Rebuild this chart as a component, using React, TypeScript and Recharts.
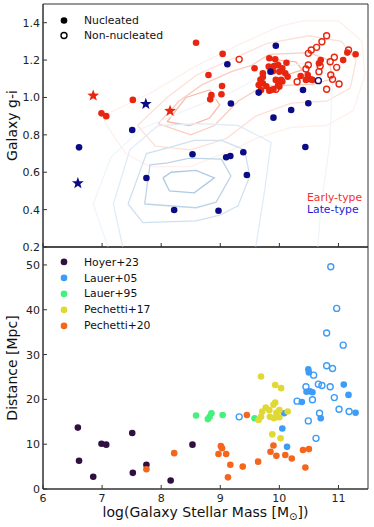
import React from 'react';
import { ScatterChart, Scatter, XAxis, YAxis, ReferenceArea, Legend } from 'recharts';

type Pt = [number, number];

const massTicks = [6, 7, 8, 9, 10, 11];
const colourTicks = [0.2, 0.4, 0.6, 0.8, 1.0, 1.2, 1.4];
const distTicks = [0, 10, 20, 30, 40, 50];

// top panel: galaxy colour vs stellar mass
const earlyNucleated: Pt[] = [
  [6.99, 0.915], [7.07, 0.9], [7.52, 0.987], [8.59, 1.293], [9.04, 1.233], [8.8, 1.12], [9.03, 1.061],
  [8.85, 1.013], [9.02, 1.017], [8.83, 0.99], [9.58, 1.156], [9.83, 1.21], [9.93, 1.204], [10.12, 1.186],
  [9.98, 1.174], [9.91, 1.168], [10.05, 1.156], [9.82, 1.165], [9.72, 1.129], [9.68, 1.094], [9.72, 1.076],
  [9.65, 1.067], [10.0, 1.138], [10.1, 1.129], [10.14, 1.111], [10.03, 1.094], [9.94, 1.094], [9.98, 1.067],
  [9.86, 1.04], [9.83, 1.036], [9.9, 1.044], [9.72, 1.11], [9.89, 1.14], [10.05, 1.085], [10.0, 1.058],
  [9.69, 1.04], [9.78, 1.06], [10.36, 1.115], [10.45, 1.094], [10.53, 1.097], [10.48, 1.12], [10.56, 1.094],
  [10.7, 1.2], [10.67, 1.183], [11.08, 1.2], [11.15, 1.24], [11.29, 1.231],
];
const earlyNonNucleated: Pt[] = [
  [9.32, 1.204], [10.8, 1.33], [10.72, 1.298], [10.63, 1.268], [10.54, 1.254], [10.49, 1.236], [11.17, 1.254],
  [10.93, 1.215], [10.86, 1.191], [10.97, 1.161], [10.49, 1.174], [10.45, 1.152], [10.69, 1.168], [10.67, 1.138],
  [10.3, 1.084], [9.94, 1.044], [10.87, 1.12], [10.9, 1.097], [11.01, 1.072], [10.8, 1.044],
];
const earlyStars: Pt[] = [[6.85, 1.01], [8.15, 0.928]];
const lateNucleated: Pt[] = [
  [9.12, 1.178], [9.18, 0.968], [9.94, 1.277], [10.2, 0.933], [10.49, 0.969], [9.9, 0.892], [10.4, 1.04],
  [9.85, 1.138], [9.65, 1.026], [7.51, 0.826], [6.61, 0.733], [8.53, 0.696], [7.75, 0.569], [8.22, 0.398],
  [9.1, 0.68], [9.17, 0.687], [9.39, 0.707], [10.44, 0.735], [9.45, 0.585], [8.97, 0.394],
];
const lateNonNucleated: Pt[] = [[10.66, 1.09]];
const lateStars: Pt[] = [[7.74, 0.965], [6.59, 0.541]];

// density contours, outer to inner
const earlyContours: Pt[][] = [
  [[7.0, 0.9], [7.8, 1.02], [8.6, 1.17], [9.3, 1.28], [10.0, 1.38], [10.4, 1.41], [11.0, 1.41], [11.4, 1.3], [11.45, 1.12],
   [11.25, 0.93], [10.8, 0.85], [10.2, 0.84], [9.6, 0.78], [9.2, 0.72], [8.5, 0.63], [7.8, 0.63], [7.4, 0.7], [7.1, 0.84], [7.0, 0.9]],
  [[7.6, 0.85], [8.1, 1.0], [8.6, 1.12], [9.3, 1.22], [9.8, 1.29], [10.5, 1.33], [11.05, 1.3], [11.3, 1.2], [11.2, 1.05],
   [10.8, 0.98], [10.2, 0.97], [9.6, 0.9], [9.1, 0.78], [8.5, 0.72], [7.9, 0.74], [7.6, 0.85]],
  [[7.95, 0.86], [8.3, 0.98], [8.7, 1.07], [9.2, 1.14], [9.52, 1.17], [9.83, 1.23], [10.5, 1.24], [10.84, 1.2], [10.9, 1.1],
   [10.56, 1.07], [9.72, 1.06], [9.3, 0.98], [8.9, 0.85], [8.5, 0.8], [7.95, 0.86]],
  [[8.1, 0.87], [8.42, 1.0], [8.82, 1.04], [8.99, 0.96], [8.82, 0.89], [8.48, 0.85], [8.1, 0.87]],
  [[9.95, 1.16], [10.0, 1.2], [10.28, 1.19], [10.39, 1.147], [10.11, 1.12], [9.95, 1.16]],
];
const earlyContourColours = ['#fef0ec', '#fde0d8', '#fbcdc1', '#f8baab', '#f8baab'];

const lateContours: Pt[][] = [
  [[7.1, 0.2], [6.85, 0.43], [7.15, 0.68], [7.65, 0.83], [8.4, 0.93], [9.2, 1.03], [9.9, 1.15], [10.5, 1.19], [10.9, 1.1],
   [10.85, 0.75], [10.7, 0.4], [10.65, 0.2]],
  [[7.35, 0.2], [7.19, 0.43], [7.47, 0.72], [7.95, 0.85], [8.65, 0.86], [9.3, 0.85], [9.86, 0.76], [9.75, 0.5], [9.6, 0.2]],
  [[7.44, 0.43], [7.75, 0.7], [8.11, 0.73], [8.56, 0.77], [9.02, 0.77], [9.41, 0.72], [9.5, 0.58], [9.3, 0.42], [8.99, 0.37],
   [8.59, 0.34], [7.69, 0.33], [7.44, 0.43]],
  [[7.72, 0.43], [7.81, 0.64], [8.11, 0.65], [8.48, 0.675], [9.02, 0.67], [9.18, 0.58], [8.93, 0.44], [8.59, 0.41], [7.72, 0.43]],
  [[8.03, 0.57], [8.17, 0.6], [8.59, 0.61], [8.9, 0.57], [8.56, 0.49], [8.14, 0.5], [8.03, 0.57]],
];
const lateContourColours = ['#eef5fb', '#e0ecf7', '#cfe1f1', '#bcd4ea', '#adcae5'];

// bottom panel: distance vs stellar mass
const surveyNames = ['Hoyer+23', 'Lauer+05', 'Lauer+95', 'Pechetti+17', 'Pechetti+20'];
const surveyColours = ['#2f1040', '#3d9cf5', '#45f07e', '#e0d834', '#f4661c'];
const hoyer23: Pt[] = [
  [6.59, 13.7], [6.61, 6.3], [6.85, 2.75], [6.99, 10.1], [7.07, 9.9], [7.51, 12.5], [7.52, 3.6], [7.75, 5.4], [8.16, 1.9], [8.53, 9.9],
];
const lauer05: Pt[] = [
  [10.49, 26.7], [10.5, 26.0], [11.09, 23.3], [10.46, 21.7], [10.56, 21.6], [10.52, 21.8], [10.38, 19.4], [11.17, 21.0],
  [11.29, 17.0], [10.7, 15.8], [10.08, 16.9], [10.05, 13.5], [10.13, 9.4],
];
const lauer05Open: Pt[] = [
  [10.87, 49.6], [10.97, 40.3], [10.8, 34.8], [11.08, 32.1], [10.8, 27.5], [10.9, 26.9], [10.58, 25.4], [10.45, 22.8],
  [10.66, 23.4], [10.72, 23.1], [10.86, 22.8], [10.3, 19.6], [10.56, 19.9], [10.93, 20.4], [11.01, 17.8], [11.18, 17.3],
  [10.68, 16.9], [10.49, 15.2], [10.62, 11.3], [9.32, 16.1],
];
const lauer95: Pt[] = [[8.59, 16.4], [8.79, 15.6], [8.82, 16.1], [8.85, 16.9], [9.04, 16.5], [9.58, 15.8]];
const pechetti17: Pt[] = [
  [9.69, 25.1], [9.93, 23.2], [10.03, 22.5], [9.93, 19.3], [9.71, 17.3], [9.83, 17.6], [10.0, 17.6], [10.14, 17.3],
  [9.69, 16.1], [9.65, 15.4], [9.84, 16.1], [9.91, 15.8], [10.0, 16.0], [9.88, 12.2], [10.02, 11.3], [9.77, 18.2],
  [9.9, 18.8], [9.95, 17.0],
];
const pechetti20: Pt[] = [
  [7.75, 4.4], [8.22, 8.0], [9.45, 16.5], [9.01, 9.6], [9.03, 9.1], [9.1, 7.8], [8.97, 7.8], [9.17, 5.4], [9.38, 5.0],
  [9.13, 2.6], [9.64, 6.1], [9.9, 9.7], [9.85, 8.3], [9.95, 7.4], [10.1, 7.6], [10.21, 6.8], [10.4, 8.7], [10.5, 8.9], [10.44, 4.8],
];

const RED = '#e8260f';
const NAVY = '#0b0b86';
const FONT = 'DejaVu Sans, sans-serif';
const AXIS = '#333';

const toXY = (pts: Pt[]) => pts.map(([x, y]) => ({ x, y }));

const starPoints = (cx: number, cy: number, R: number, r: number) => {
  const out: string[] = [];
  for (let i = 0; i < 10; i++) {
    const a = -Math.PI / 2 + (i * Math.PI) / 5;
    const rad = i % 2 === 0 ? R : r;
    out.push(`${cx + rad * Math.cos(a)},${cy + rad * Math.sin(a)}`);
  }
  return out.join(' ');
};

const dot = (color: string) => (p: any) => <circle cx={p.cx} cy={p.cy} r={3.3} fill={color} />;
const ring = (color: string) => (p: any) => (
  <circle cx={p.cx} cy={p.cy} r={3} fill="none" stroke={color} strokeWidth={1.4} />
);
const star = (color: string) => (p: any) => <polygon points={starPoints(p.cx, p.cy, 6.2, 2.6)} fill={color} />;
const noMarker = () => <g />;

// tickSize/tickMargin are 0, so x,y land on the axis line itself
const leftTick = (fmt: (v: number) => string) => (p: any) => (
  <g>
    <line x1={p.x} x2={p.x + 4} y1={p.y} y2={p.y} stroke={AXIS} />
    <text x={p.x - 3} y={p.y + 4} textAnchor="end" fontSize={11} fontFamily={FONT} fill="#222">
      {fmt(p.payload.value)}
    </text>
  </g>
);

const bottomTick = (showLabel: boolean) => (p: any) => (
  <g>
    <line x1={p.x} x2={p.x} y1={p.y} y2={p.y - 4} stroke={AXIS} />
    {showLabel && (
      <text x={p.x} y={p.y + 12.5} textAnchor="middle" fontSize={11} fontFamily={FONT} fill="#222">
        {p.payload.value}
      </text>
    )}
  </g>
);

const legendRow = (marker: React.ReactNode, label: string, h: number) => (
  <div key={label} style={{ display: 'flex', alignItems: 'center', height: h }}>
    <svg width={26} height={h}>{marker}</svg>
    <span>{label}</span>
  </div>
);

const TopLegend = () => (
  <div style={{ fontFamily: FONT, fontSize: 10.8, color: '#111' }}>
    {legendRow(<circle cx={6} cy={7.5} r={3.3} fill="#000" />, 'Nucleated', 15)}
    {legendRow(<circle cx={6} cy={7.5} r={3} fill="none" stroke="#000" strokeWidth={1.4} />, 'Non-nucleated', 15)}
  </div>
);

const BottomLegend = () => (
  <div style={{ fontFamily: FONT, fontSize: 10.8, color: '#111' }}>
    {surveyNames.map((n, i) => legendRow(<circle cx={6} cy={7.9} r={3.3} fill={surveyColours[i]} />, n, 15.8))}
  </div>
);

export default function App() {
  return (
    <div style={{ position: 'absolute', left: 0, top: 0, width: 374, height: 527, background: '#fff' }}>
      <div style={{ position: 'absolute', left: 0, top: 0 }}>
        <ScatterChart width={374} height={258} margin={{ top: 4, right: 6, bottom: 10, left: 42 }}>
          <XAxis type="number" dataKey="x" domain={[6, 11.5]} ticks={massTicks} interval={0} height={1}
            tickSize={0} tickMargin={0} tick={bottomTick(false)} stroke={AXIS} allowDataOverflow />
          <YAxis type="number" dataKey="y" domain={[0.2, 1.5]} ticks={colourTicks} interval={0} width={1}
            tickSize={0} tickMargin={0} tick={leftTick((v) => v.toFixed(1))} stroke={AXIS} allowDataOverflow />
          {earlyContours.map((c, i) => (
            <Scatter key={`e${i}`} data={toXY(c)} shape={noMarker} line={{ stroke: earlyContourColours[i], strokeWidth: 1.3 }}
              isAnimationActive={false} legendType="none" />
          ))}
          {lateContours.map((c, i) => (
            <Scatter key={`l${i}`} data={toXY(c)} shape={noMarker} line={{ stroke: lateContourColours[i], strokeWidth: 1.3 }}
              isAnimationActive={false} legendType="none" />
          ))}
          <Scatter data={toXY(earlyNucleated)} shape={dot(RED)} isAnimationActive={false} />
          <Scatter data={toXY(earlyNonNucleated)} shape={ring(RED)} isAnimationActive={false} />
          <Scatter data={toXY(earlyStars)} shape={star(RED)} isAnimationActive={false} />
          <Scatter data={toXY(lateNucleated)} shape={dot(NAVY)} isAnimationActive={false} />
          <Scatter data={toXY(lateNonNucleated)} shape={ring(NAVY)} isAnimationActive={false} />
          <Scatter data={toXY(lateStars)} shape={star(NAVY)} isAnimationActive={false} />
          <ReferenceArea x1={6} x2={11.5} y1={0.2} y2={1.5} fill="none" stroke={AXIS} ifOverflow="visible" />
          <Legend layout="vertical" align="center" verticalAlign="middle" content={TopLegend}
            wrapperStyle={{ left: 58, top: 12.5, width: 'auto' }} />
        </ScatterChart>
      </div>
      <div style={{ position: 'absolute', left: 0, top: 240 }}>
        <ScatterChart width={374} height={287} margin={{ top: 7, right: 6, bottom: 37, left: 42 }}>
          <XAxis type="number" dataKey="x" domain={[6, 11.5]} ticks={massTicks} interval={0} height={1}
            tickSize={0} tickMargin={0} tick={bottomTick(true)} stroke={AXIS} allowDataOverflow />
          <YAxis type="number" dataKey="y" domain={[0, 54]} ticks={distTicks} interval={0} width={1}
            tickSize={0} tickMargin={0} tick={leftTick((v) => String(v))} stroke={AXIS} allowDataOverflow />
          <Scatter data={toXY(hoyer23)} shape={dot(surveyColours[0])} isAnimationActive={false} />
          <Scatter data={toXY(lauer05)} shape={dot(surveyColours[1])} isAnimationActive={false} />
          <Scatter data={toXY(lauer05Open)} shape={ring(surveyColours[1])} isAnimationActive={false} />
          <Scatter data={toXY(lauer95)} shape={dot(surveyColours[2])} isAnimationActive={false} />
          <Scatter data={toXY(pechetti17)} shape={dot(surveyColours[3])} isAnimationActive={false} />
          <Scatter data={toXY(pechetti20)} shape={dot(surveyColours[4])} isAnimationActive={false} />
          <ReferenceArea x1={6} x2={11.5} y1={0} y2={54} fill="none" stroke={AXIS} ifOverflow="visible" />
          <Legend layout="vertical" align="center" verticalAlign="middle" content={BottomLegend}
            wrapperStyle={{ left: 58, top: 14.4, width: 'auto' }} />
        </ScatterChart>
      </div>
      <svg width={374} height={527} style={{ position: 'absolute', left: 0, top: 0, pointerEvents: 'none' }}
        fontFamily={FONT}>
        <text transform="translate(16.5,125.5) rotate(-90)" textAnchor="middle" fontSize={14} fill="#111">Galaxy g-i</text>
        <text transform="translate(16.5,368) rotate(-90)" textAnchor="middle" fontSize={14} fill="#111">Distance [Mpc]</text>
        <text x={205.5} y={517} textAnchor="middle" fontSize={14} fill="#111">
          log(Galaxy Stellar Mass [M<tspan fontSize={10} dy={3}>⊙</tspan><tspan dy={-3}>])</tspan>
        </text>
        <text x={307} y={200.5} fontSize={10.8} fill="#f03030">Early-type</text>
        <text x={307} y={213} fontSize={10.8} fill="#1c1cdc">Late-type</text>
      </svg>
    </div>
  );
}
